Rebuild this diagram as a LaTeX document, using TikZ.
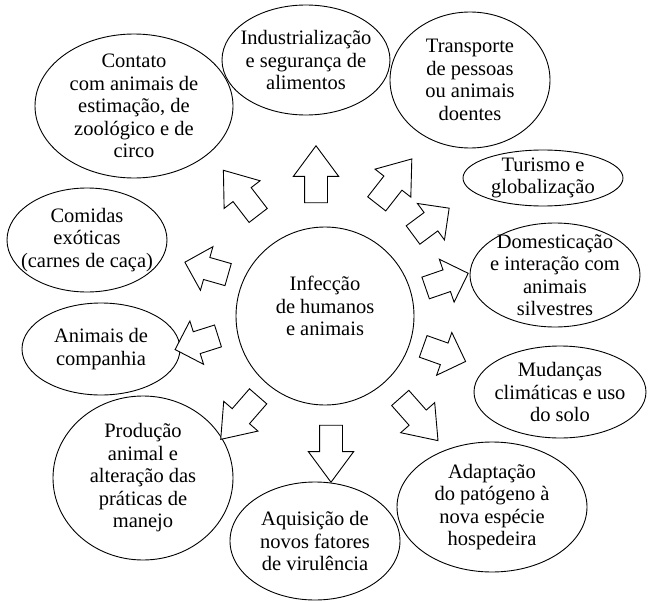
\documentclass[tikz,border=0pt]{standalone}
\usepackage{fontspec}
\setmainfont{Liberation Serif}
\usepackage{tikz}
\usetikzlibrary{shapes, arrows.meta, positioning}
\newcommand{\ovalfont}{\fontsize{20.5}{22.5}\selectfont}

\begin{document}
\begin{tikzpicture}
  [
    x=1pt, y=-1pt,
    Oval/.style={ellipse, draw=black, line width=0.9pt, inner sep=0pt},
    Hub/.style={circle, draw=black, line width=0.9pt, inner sep=0pt, minimum size=178pt},
    Flow/.style={single arrow, draw=black, fill=white, line width=0.9pt,
      inner xsep=0pt, inner ysep=11pt, minimum height=57pt,
      single arrow head extend=11.25pt, single arrow tip angle=73},
    FlowShort/.style={Flow, minimum height=45pt, single arrow tip angle=90},
    every label/.style={align=center, font=\ovalfont, inner sep=0pt}
  ]
  \useasboundingbox (0,0) rectangle (648,602);
  % Nodes
  \node[Hub, label={[yshift=10pt]center:Infecção\\de humanos\\e animais}] (hub) at (325,316) {};
  \node[Oval, minimum width=168pt, minimum height=110pt,
    label={center:Industrialização\\e segurança de\\alimentos}] (ind) at (306,60) {};
  \node[Oval, minimum width=160pt, minimum height=136pt,
    label={center:Transporte\\de pessoas\\ou animais\\doentes}] (tra) at (470,80) {};
  \node[Oval, minimum width=160pt, minimum height=56pt,
    label={center:Turismo e\\globalização}] (tur) at (543,178) {};
  \node[Oval, minimum width=170pt, minimum height=104pt,
    label={center:Domesticação\\e interação com\\animais\\silvestres}] (dom) at (555,275) {};
  \node[Oval, minimum width=172pt, minimum height=92pt,
    label={center:Mudanças\\climáticas e uso\\do solo}] (mud) at (560,392) {};
  \node[Oval, minimum width=190pt, minimum height=130pt,
    label={center:Adaptação\\do patógeno à\\nova espécie\\hospedeira}] (ada) at (492,507) {};
  \node[Oval, minimum width=170pt, minimum height=118pt,
    label={center:Aquisição de\\novos fatores\\de virulência}] (aqu) at (315,541) {};
  \node[Oval, minimum width=180pt, minimum height=164pt,
    label={center:Produção\\animal e\\alteração das\\práticas de\\manejo}] (pro) at (143,478) {};
  \node[Oval, minimum width=158pt, minimum height=92pt,
    label={center:Animais de\\companhia}] (com) at (101,349) {};
  \node[Oval, minimum width=160pt, minimum height=104pt,
    label={center:Comidas\\exóticas\\(carnes de caça)}] (exo) at (87,240) {};
  \node[Oval, minimum width=198pt, minimum height=144pt,
    label={center:Contato\\com animais de\\estimação, de\\zoológico e de\\circo}] (zoo) at (134,106) {};
  % Arrows
  \node[Flow, rotate=90] (a1) at (316,182) {};
  \node[Flow, rotate=52] (a2) at (389.5,187.5) {};
  \node[FlowShort, rotate=36.6] (a3) at (426.5,225) {};
  \node[FlowShort, rotate=19] (a4) at (441.5,282.5) {};
  \node[FlowShort, rotate=-19.6] (a5) at (439,352) {};
  \node[Flow, rotate=-48.5] (a6) at (414,413.5) {};
  \node[Flow, rotate=-90] (a7) at (331,446) {};
  \node[Flow, rotate=-131] (a8) at (244.5,412) {};
  \node[FlowShort, rotate=197.6] (a9) at (202,341) {};
  \node[FlowShort, rotate=164] (a10) at (212,270) {};
  \node[Flow, rotate=127.6] (a11) at (245.5,199) {};
\end{tikzpicture}
\end{document}
